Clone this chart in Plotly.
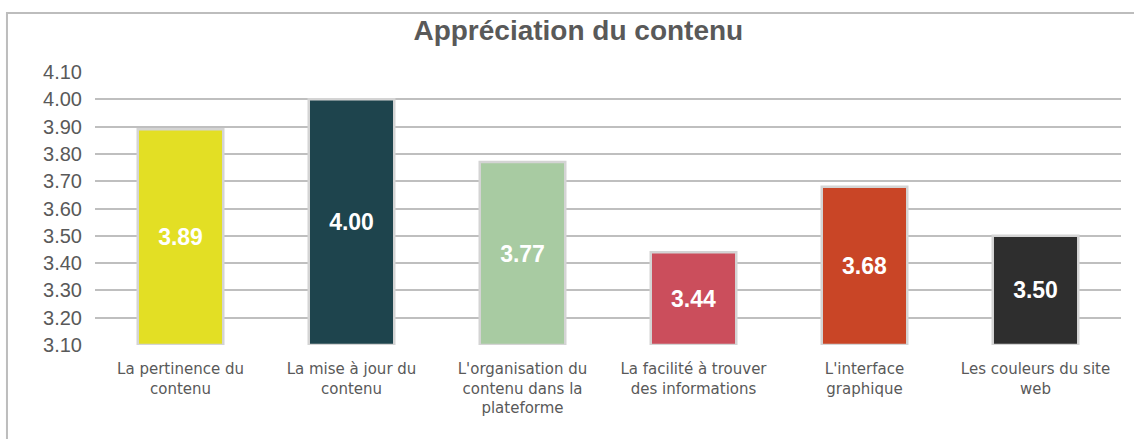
import plotly.graph_objects as go

# --- data ---
categories = [
    "La pertinence du<br>contenu",
    "La mise à jour du<br>contenu",
    "L'organisation du<br>contenu dans la<br>plateforme",
    "La facilité à trouver<br>des informations",
    "L'interface<br>graphique",
    "Les couleurs du site<br>web",
]
scores = [3.89, 4.00, 3.77, 3.44, 3.68, 3.50]
bar_colors = ["#E3DF24", "#1E444D", "#A8CBA2", "#CB4E5C", "#C94526", "#2E2E2E"]
y_ticks = [3.10, 3.20, 3.30, 3.40, 3.50, 3.60, 3.70, 3.80, 3.90, 4.00, 4.10]
axis_floor = 3.10  # value axis starts here, bars grow from it

fig = go.Figure()
fig.add_trace(go.Bar(
    x=categories, y=[s - axis_floor for s in scores], base=axis_floor,
    marker=dict(color=bar_colors, line=dict(color="#d4d4d4", width=2.5)),
    width=0.5,
    text=[f"{v:.2f}" for v in scores],
    textposition="inside", insidetextanchor="middle", textangle=0,
    textfont=dict(family="Liberation Sans Narrow, Arial Narrow, sans-serif",
                  size=23, color="white", weight="bold"),
    hovertext=[f"{v:.2f}" for v in scores], hoverinfo="x+text",
))

# light frame around the chart (top and left edges visible in the reference)
fig.add_shape(type="rect", xref="paper", yref="paper",
              x0=-0.0858, x1=1.05, y0=-0.5, y1=1.216,
              line=dict(color="#bdbdbd", width=2), layer="below")

fig.update_layout(
    width=1134, height=439,
    paper_bgcolor="white", plot_bgcolor="white",
    margin=dict(l=95, r=13, t=72, b=94, autoexpand=False),
    title=dict(text="<b>Appréciation du contenu</b>", x=0.51, xanchor="center",
               y=0.932, yanchor="middle",
               font=dict(family="Liberation Sans, Arial, sans-serif", size=28, color="#595959")),
    showlegend=False,
)
fig.update_xaxes(
    showgrid=False, showline=False, ticks="", automargin=False,
    ticklabelstandoff=13,
    tickfont=dict(family="DejaVu Sans, sans-serif", size=15, color="#595959"),
)
fig.update_yaxes(
    range=[axis_floor, 4.1], tickvals=y_ticks, ticktext=[f"{t:.2f}" for t in y_ticks],
    showgrid=True, gridcolor="#bfbfbf", gridwidth=2,
    zeroline=False, showline=False, ticks="", automargin=False,
    ticklabelstandoff=12,
    tickfont=dict(family="Liberation Sans, Arial, sans-serif", size=20, color="#595959"),
)

fig.write_html("out.html", config={"displayModeBar": False},
               post_script="document.body.style.margin='0';")
